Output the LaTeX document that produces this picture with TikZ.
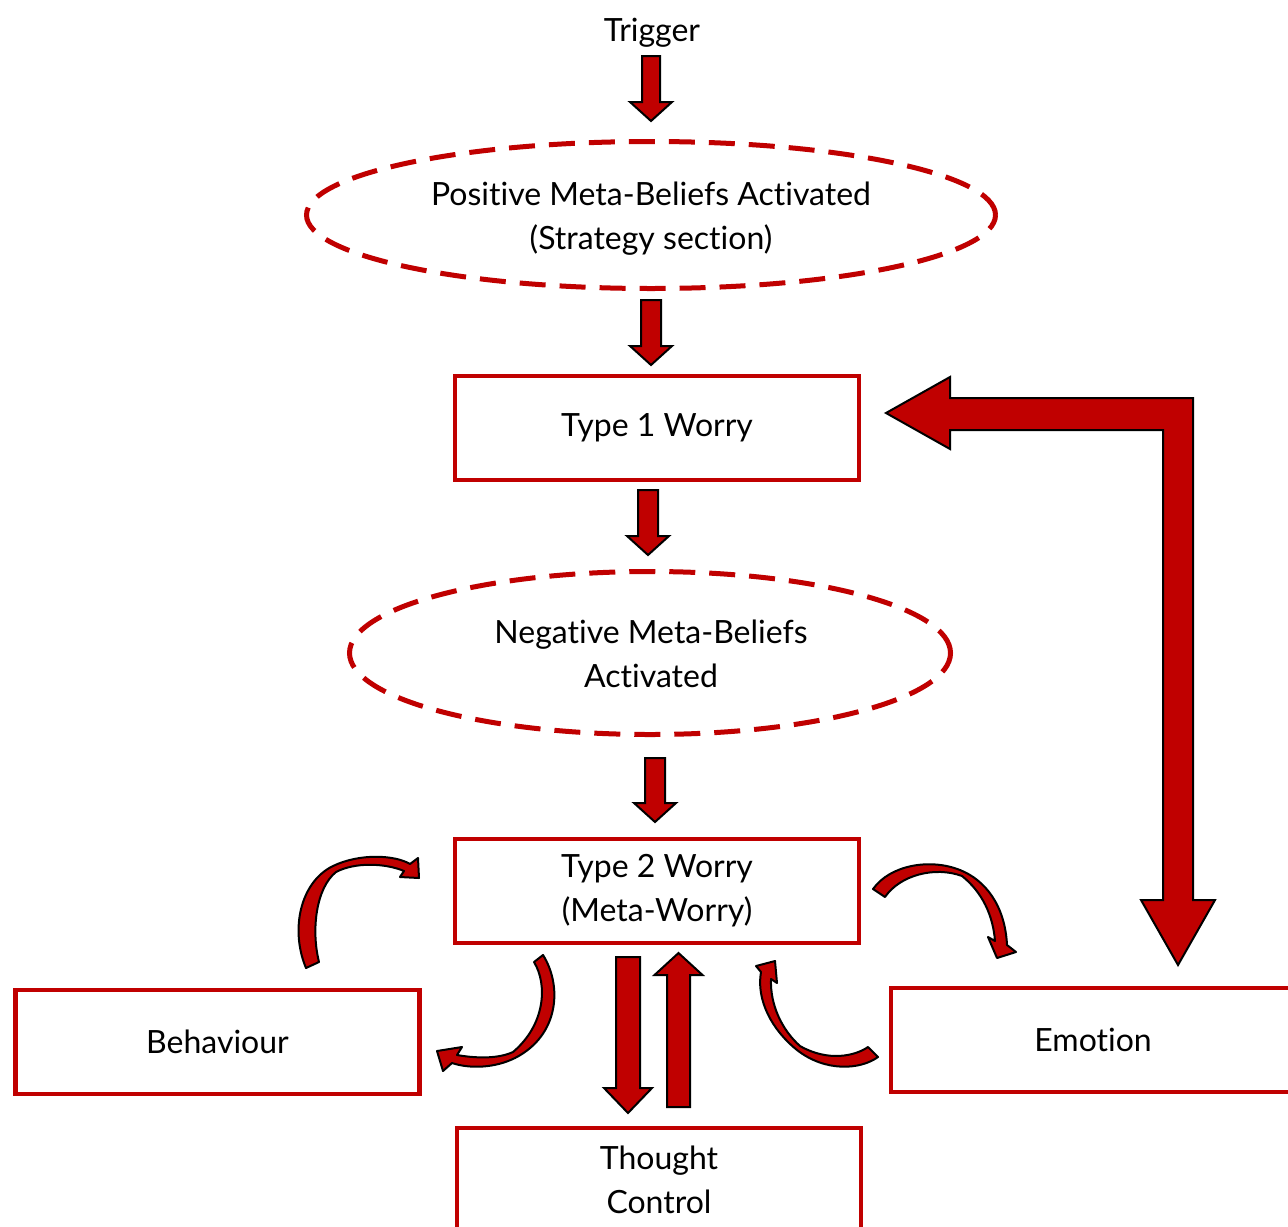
\documentclass[tikz,border=0pt]{standalone}
\usepackage{fontspec}
\setmainfont{Lato}[Ligatures=NoCommon]
\usetikzlibrary{shapes.geometric}
\definecolor{wred}{RGB}{192,0,0}
\newcommand\blockarr[6]{% x, tail, base, tip, half shaft, half head
  \draw[barrow] (#1-#5,#2) -- (#1+#5,#2) -- (#1+#5,#3) -- (#1+#6,#3) -- (#1,#4) -- (#1-#6,#3) -- (#1-#5,#3) -- cycle;}
\begin{document}
\begin{tikzpicture}[x=0.5pt,y=-0.5pt,
  txt/.style={font=\fontsize{16}{22}\selectfont, align=center, inner sep=0pt},
  box/.style={txt, draw=wred, line width=2.3pt, minimum width=202pt, minimum height=52pt},
  oval/.style={ellipse, draw=wred, line width=2.5pt, dash pattern=on 13pt off 7pt, inner sep=0pt},
  barrow/.style={fill=wred, draw=black, line width=1pt, line join=miter},
  carrow/.style={fill=wred, draw=black, line width=1pt, line join=round}]
\useasboundingbox (0,0) rectangle (1288,1226);
\fill[white] (0,0) rectangle (1288,1226);

\node[txt] (trig) at (652,33) {Trigger};
\node[oval, minimum width=344.5pt, minimum height=73.5pt] (pos) at (651,215) {};
\node[txt] (posT) at (651,219) {Positive Meta-Beliefs Activated\\(Strategy section)};
\node[box] (t1) at (657,428) {Type 1 Worry};
\node[oval, minimum width=300.5pt, minimum height=81.5pt] (neg) at (650,653) {};
\node[txt] (negT) at (651,654) {Negative Meta-Beliefs\\Activated};
\node[box] (t2) at (657,891) {Type 2 Worry\\(Meta-Worry)};
\node[box] (beh) at (217.5,1042) {Behaviour};
\node[box] (emo) at (1093,1040) {Emotion};
\node[box] (tc) at (659,1180) {Thought\\Control};

% straight block arrows
\blockarr{651}{56}{102}{121}{9}{21}
\blockarr{651}{300}{346}{365}{10}{21}
\blockarr{648}{490}{536}{555}{10}{21}
\blockarr{655}{758}{803}{822}{10}{21}
\blockarr{628}{957}{1088}{1113}{12}{24}
\blockarr{678.5}{1107}{975}{953}{11.5}{24}

% big L arrow Emotion -> Type 1
\draw[barrow] (886,413) -- (950,377) -- (950,398) -- (1193,398) -- (1193,900) -- (1215,900)
  -- (1178,965) -- (1141,900) -- (1163,900) -- (1163,430) -- (950,430) -- (950,449) -- cycle;

% curved arrows
\draw[carrow] (306,968) .. controls (290,930) and (300,882) .. (333,866)
  .. controls (360,853) and (395,855) .. (410,864) -- (418,858) -- (419,878) -- (400,877) -- (404,871)
  .. controls (385,863) and (355,862) .. (336,872) .. controls (316,888) and (311,930) .. (319,962) -- cycle;
\draw[carrow] (543,955) .. controls (562,985) and (560,1035) .. (515,1058)
  .. controls (495,1068) and (470,1069) .. (452,1063) -- (443,1071) -- (437,1051) -- (462,1047) -- (457,1055)
  .. controls (480,1059) and (500,1058) .. (513,1052) .. controls (545,1025) and (548,985) .. (534,962) -- cycle;
\draw[carrow] (878,1057) .. controls (860,1070) and (825,1072) .. (797,1050)
  .. controls (772,1030) and (756,1000) .. (761,972) -- (756,966) -- (775,961) -- (777,983) -- (771,979)
  .. controls (770,1005) and (782,1030) .. (800,1046) .. controls (828,1062) and (855,1056) .. (868,1047) -- cycle;
\draw[carrow] (873,889) .. controls (890,865) and (930,858) .. (960,870)
  .. controls (985,880) and (1005,905) .. (1007,945) -- (1016,952) -- (997,958) -- (988,937) -- (995,941)
  .. controls (993,915) and (982,892) .. (962,876) .. controls (935,866) and (900,875) .. (885,897) -- cycle;
\end{tikzpicture}
\end{document}
